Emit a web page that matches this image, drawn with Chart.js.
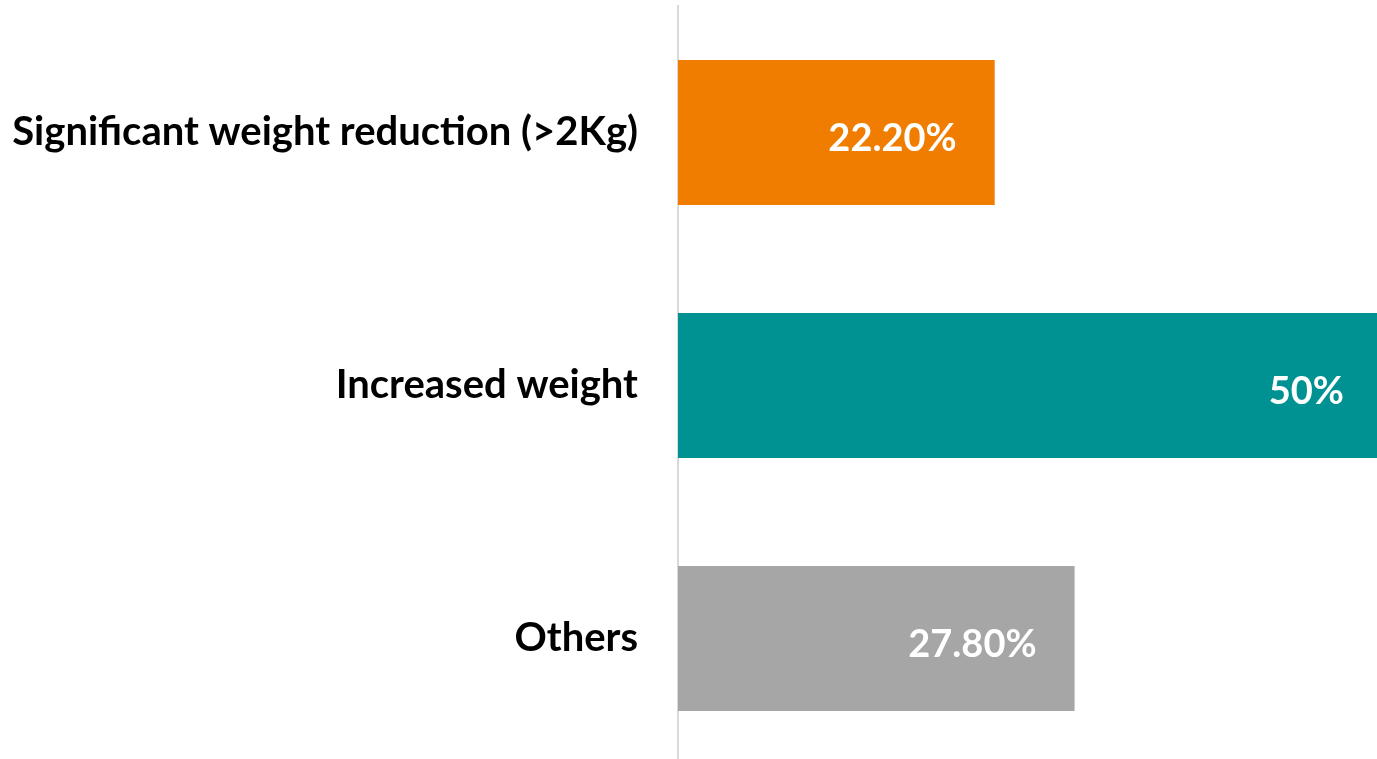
<!DOCTYPE html>
<html><head><meta charset="utf-8">
<script src="https://cdn.jsdelivr.net/npm/chart.js@4"></script>
<style>html,body{margin:0;padding:0;background:#fff;overflow:hidden}
#wrap{position:relative;width:1377px;height:765px}</style>
</head><body><div id="wrap"><canvas id="c"></canvas></div>
<script>
const categories = ['Significant weight reduction (>2Kg)', 'Increased weight', 'Others'];
const values = [22.2, 50, 27.8];
const valueLabels = ['22.20%', '50%', '27.80%'];
const barColors = ['#F07D00', '#009292', '#A6A6A6'];
const axisMax = 49;

const FONT = 'Lato';

const valueLabelPlugin = {
  id: 'valueLabels',
  afterDatasetsDraw(chart) {
    const ctx = chart.ctx;
    const meta = chart.getDatasetMeta(0);
    const area = chart.chartArea;
    ctx.save();
    ctx.fillStyle = '#ffffff';
    ctx.font = 'bold 38px ' + FONT;
    ctx.textAlign = 'right';
    ctx.textBaseline = 'middle';
    meta.data.forEach((bar, i) => {
      const end = Math.min(bar.x, area.right + 5);
      ctx.fillText(valueLabels[i], end - 38, bar.y + 6);
    });
    ctx.restore();
  }
};

new Chart(document.getElementById('c'), {
  type: 'bar',
  data: {
    labels: categories,
    datasets: [{
      data: values,
      backgroundColor: barColors,
      borderWidth: 0,
      barPercentage: 0.573,
      categoryPercentage: 1
    }]
  },
  options: {
    indexAxis: 'y',
    responsive: true,
    maintainAspectRatio: false,
    animation: false,
    layout: { padding: { top: 6, left: 0, right: 0, bottom: 0 } },
    plugins: { legend: { display: false }, tooltip: { enabled: false } },
    scales: {
      x: { display: false, min: 0, max: axisMax },
      y: {
        grid: { display: false, drawTicks: false },
        border: { display: true, color: '#d9d9d9', width: 2 },
        ticks: { color: '#000000', font: { family: FONT, weight: 'bold', size: 40 }, padding: 40 },
        afterFit: s => { s.width = 678; s.paddingTop = 0; s.paddingBottom = 0; }
      }
    }
  },
  plugins: [valueLabelPlugin]
});
</script>
</body></html>
